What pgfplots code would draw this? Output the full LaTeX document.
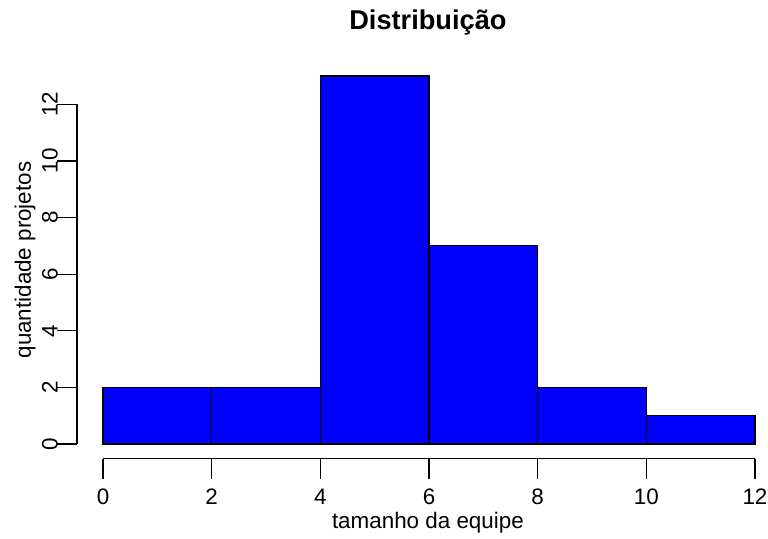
\documentclass[border=0pt]{standalone}
\usepackage{pgfplots}
\pgfplotsset{compat=1.18}
\usepackage{fontspec}
\setmainfont{Liberation Sans}
\begin{document}
\begin{tikzpicture}
\begin{axis}[
  x=27.165pt, y=14.15pt,
  xmin=-0.48, xmax=12.2, ymin=-0.52, ymax=13.6,
  axis lines=left,
  axis line style={draw=none},
  clip=false,
  tick align=outside,
  major tick length=10pt,
  every tick/.style={black, line width=0.6pt},
  xtick={0,2,4,6,8,10,12},
  ytick={0,2,4,6,8,10,12},
  font=\fontsize{11.2}{13.4}\selectfont,
  /pgf/number format/assume math mode=true,
  xticklabel style={anchor=center, yshift=-9pt},
  yticklabel style={xshift=-3.5pt, rotate=90, anchor=center},
]
\addplot[ybar interval, fill=blue, draw=black, line width=0.6pt] coordinates {(0,2) (2,2) (4,13) (6,7) (8,2) (10,1) (12,1)};
\draw[line width=0.6pt] (axis cs:0,-0.52) -- (axis cs:12,-0.52);
\draw[line width=0.6pt] (axis cs:-0.48,0) -- (axis cs:-0.48,12);
\node[font=\fontsize{13.6}{16}\selectfont\bfseries] at (axis cs:5.98,14.88) {Distribuição};
\node[font=\fontsize{11.2}{13.4}\selectfont] at (axis cs:5.98,-2.79) {tamanho da equipe};
\node[font=\fontsize{11.2}{13.4}\selectfont, rotate=90] at (axis cs:-1.436,6.5) {quantidade projetos};
\coordinate (bl) at (axis cs:-1.896,-3.322);
\coordinate (tr) at (axis cs:12.240,15.689);
\end{axis}
\pgfresetboundingbox
\path[use as bounding box] (bl) rectangle (tr);
\end{tikzpicture}
\end{document}
